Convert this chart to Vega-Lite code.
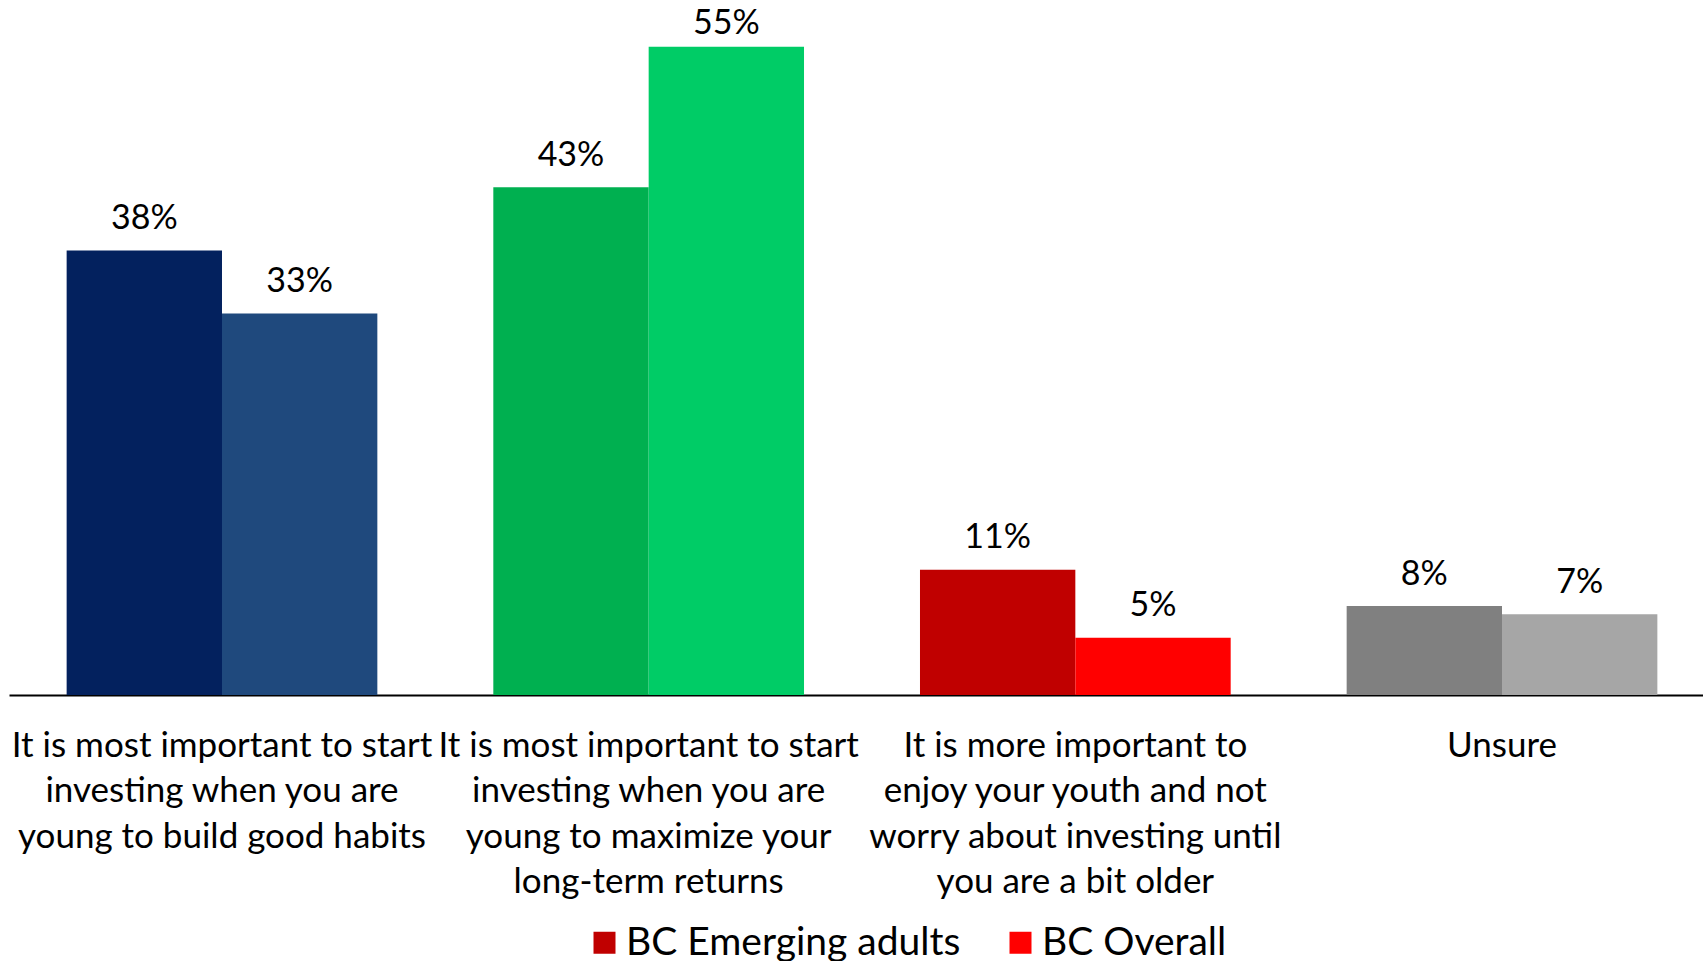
{
  "$schema": "https://vega.github.io/schema/vega-lite/v6.json",
  "width": 1694,
  "height": 695,
  "autosize": {"type": "none"},
  "padding": {"left": 9, "top": 0, "right": 0, "bottom": 266},
  "config": {"view": {"stroke": null}, "font": "Lato"},
  "data": {
    "values": [
      {"category": "It is most important to start\ninvesting when you are\nyoung to build good habits", "series": "BC Emerging adults", "value": 0.380},
      {"category": "It is most important to start\ninvesting when you are\nyoung to build good habits", "series": "BC Overall", "value": 0.326},
      {"category": "It is most important to start\ninvesting when you are\nyoung to maximize your\nlong-term returns", "series": "BC Emerging adults", "value": 0.434},
      {"category": "It is most important to start\ninvesting when you are\nyoung to maximize your\nlong-term returns", "series": "BC Overall", "value": 0.554},
      {"category": "It is more important to\nenjoy your youth and not\nworry about investing until\nyou are a bit older", "series": "BC Emerging adults", "value": 0.107},
      {"category": "It is more important to\nenjoy your youth and not\nworry about investing until\nyou are a bit older", "series": "BC Overall", "value": 0.049},
      {"category": "Unsure", "series": "BC Emerging adults", "value": 0.076},
      {"category": "Unsure", "series": "BC Overall", "value": 0.069}
    ]
  },
  "encoding": {
    "x": {
      "field": "category",
      "type": "nominal",
      "sort": [
        "It is most important to start\ninvesting when you are\nyoung to build good habits",
        "It is most important to start\ninvesting when you are\nyoung to maximize your\nlong-term returns",
        "It is more important to\nenjoy your youth and not\nworry about investing until\nyou are a bit older",
        "Unsure"
      ],
      "scale": {"paddingInner": 0.2718, "paddingOuter": 0.1351, "range": [0, 1706]},
      "axis": {
        "title": null,
        "labelAngle": 0,
        "ticks": false,
        "domainColor": "#000000",
        "domainWidth": 2,
        "labelFont": "Lato",
        "labelFontSize": 35,
        "labelColor": "#000000",
        "labelPadding": 33,
        "labelLineHeight": 45.5,
        "labelBaseline": "top",
        "labelLimit": 0,
        "labelOverlap": false,
        "labelFlush": false,
        "labelExpr": "split(datum.value, '\\n')"
      }
    },
    "xOffset": {
      "field": "series",
      "type": "nominal",
      "scale": {"domain": ["BC Emerging adults", "BC Overall"], "paddingInner": 0, "paddingOuter": 0}
    },
    "y": {
      "field": "value",
      "type": "quantitative",
      "scale": {"domain": [0, 0.594], "nice": false},
      "axis": null
    }
  },
  "layer": [
    {
      "transform": [{"filter": "datum.series == 'BC Emerging adults'"}],
      "mark": {"type": "bar"},
      "encoding": {
        "fill": {
          "field": "category",
          "type": "nominal",
          "scale": {"range": ["#C00000", "#03215E", "#00B050", "#808080"]},
          "legend": null
        }
      }
    },
    {
      "transform": [{"filter": "datum.series == 'BC Overall'"}],
      "mark": {"type": "bar"},
      "encoding": {
        "fill": {
          "field": "category",
          "type": "nominal",
          "scale": {"range": ["#FF0000", "#1F497D", "#00CC66", "#A6A6A6"]},
          "legend": null
        }
      }
    },
    {
      "transform": [{"filter": "datum.value < 0.5"}],
      "mark": {"type": "text", "baseline": "alphabetic", "dy": -21.5, "fontSize": 34, "font": "Lato", "color": "#000000"},
      "encoding": {
        "text": {"field": "value", "type": "quantitative", "format": ".0%"}
      }
    },
    {
      "transform": [{"filter": "datum.value >= 0.5"}],
      "mark": {"type": "text", "baseline": "alphabetic", "dy": -13, "fontSize": 34, "font": "Lato", "color": "#000000"},
      "encoding": {
        "text": {"field": "value", "type": "quantitative", "format": ".0%"}
      }
    },
    {
      "mark": {"type": "bar"},
      "encoding": {
        "y": {"datum": 0},
        "y2": {"datum": 0},
        "color": {
          "field": "series",
          "type": "nominal",
          "scale": {"domain": ["BC Emerging adults", "BC Overall"], "range": ["#C00000", "#FF0000"]},
          "legend": {
            "orient": "none",
            "legendX": 576,
            "legendY": 923,
            "direction": "horizontal",
            "title": null,
            "symbolType": "square",
            "symbolSize": 484,
            "symbolStrokeWidth": 0,
            "labelFont": "Lato",
            "labelFontSize": 39,
            "labelColor": "#000000",
            "labelOffset": 2,
            "labelLimit": 0,
            "columnPadding": 40,
            "padding": 0
          }
        }
      }
    }
  ],
  "resolve": {"scale": {"fill": "independent"}}
}
